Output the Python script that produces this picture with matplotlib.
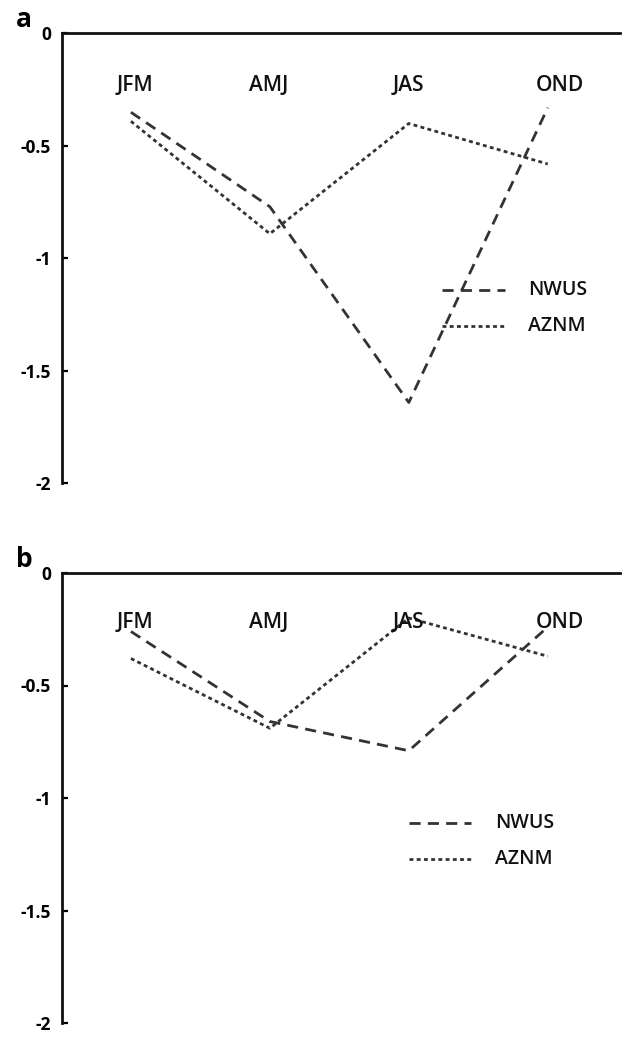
import matplotlib
matplotlib.use("Agg")
import matplotlib.pyplot as plt

plt.rcParams['font.family'] = ['Open Sans', 'DejaVu Sans']

seasons = ["JFM", "AMJ", "JAS", "OND"]
nwus_a = [-0.35, -0.77, -1.64, -0.33]
aznm_a = [-0.39, -0.89, -0.40, -0.58]
nwus_b = [-0.26, -0.66, -0.79, -0.24]
aznm_b = [-0.38, -0.69, -0.20, -0.37]
yticks = [0, -0.5, -1, -1.5, -2]
ytick_labels = ["0", "-0.5", "-1", "-1.5", "-2"]
panel_letters = ["a", "b"]
series_names = ["NWUS", "AZNM"]

W, H = 626, 1037
fig = plt.figure(figsize=(W / 100, H / 100), dpi=100)

def frac_rect(left, top, right, bottom):
    return [left / W, 1 - bottom / H, (right - left) / W, (bottom - top) / H]

panels = [
    dict(rect=frac_rect(62, 33.5, 620, 483.5), nwus=nwus_a, aznm=aznm_a,
         leg_y=[-1.14, -1.30], leg_x0=2.24, lab_y=-0.23),
    dict(rect=frac_rect(62, 573, 620, 1023), nwus=nwus_b, aznm=aznm_b,
         leg_y=[-1.11, -1.27], leg_x0=2.0, lab_y=-0.22),
]

col = "#333333"
x = list(range(len(seasons)))
lab_dx = [0.03, -0.01, 0.0, 0.09]
dash_styles = [(4, 2.6), (1.4, 1.2)]

for letter, p in zip(panel_letters, panels):
    ax = fig.add_axes(p["rect"])
    ax.set_xlim(-0.496, 3.52)
    ax.set_ylim(-2, 0)
    ax.plot(x, p["nwus"], color=col, lw=2.0, dashes=dash_styles[0], label=series_names[0])
    ax.plot(x, p["aznm"], color=col, lw=2.0, dashes=dash_styles[1], label=series_names[1])
    for s in ["right", "bottom"]:
        ax.spines[s].set_visible(False)
    for s in ["left", "top"]:
        ax.spines[s].set_linewidth(2.0)
        ax.spines[s].set_color("#111111")
    ax.set_xticks([])
    ax.set_yticks(yticks)
    ax.set_yticklabels(ytick_labels, fontsize=12.5, fontweight="bold")
    ax.tick_params(axis="y", direction="in", length=4, width=1.6, pad=8)
    for i, s in enumerate(seasons):
        ax.text(i + lab_dx[i], p["lab_y"], s, ha="center", va="center",
                fontsize=15, fontweight="semibold", color="#111111")
    # legend drawn manually
    for k, (name, dash) in enumerate(zip(series_names, dash_styles)):
        yy = p["leg_y"][k]
        ax.plot([p["leg_x0"], p["leg_x0"] + 0.45], [yy, yy], color=col, lw=2.0, dashes=dash)
        ax.text(p["leg_x0"] + 0.62, yy, name, ha="left", va="center", fontsize=14,
                fontweight="semibold", color="#111111")
    ax.text(-0.068, 1.0, letter, transform=ax.transAxes, fontsize=19,
            fontweight="bold", ha="center", va="bottom")

fig.savefig("out.png", dpi=100)
